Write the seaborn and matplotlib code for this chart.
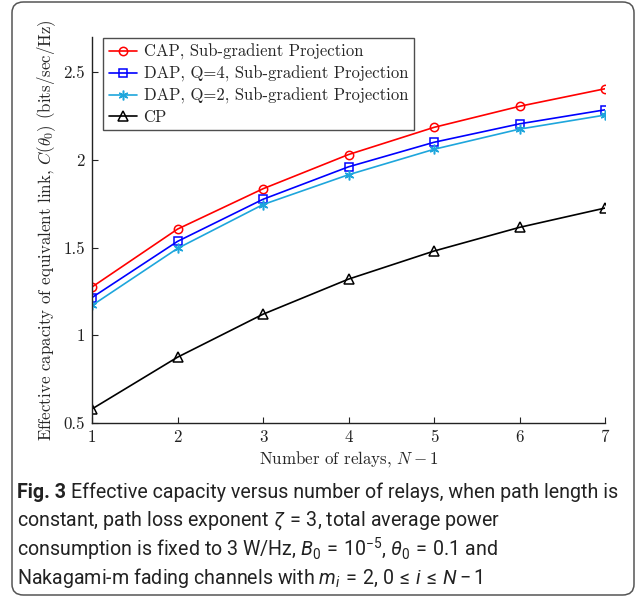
#---------------importing the libraries
import numpy as np
import pandas as pd
import matplotlib
matplotlib.use("Agg")
import matplotlib.pyplot as plt
from matplotlib.patches import FancyBboxPatch
import seaborn as sns

#---------------data
relays = [1, 2, 3, 4, 5, 6, 7]
cap_sub = [1.275, 1.605, 1.835, 2.03, 2.185, 2.305, 2.405]
dap_q4 = [1.215, 1.535, 1.775, 1.96, 2.10, 2.205, 2.285]
dap_q2 = [1.17, 1.495, 1.745, 1.915, 2.06, 2.175, 2.255]
cp = [0.58, 0.875, 1.12, 1.32, 1.48, 1.615, 1.725]

labels = ["CAP, Sub-gradient Projection",
          "DAP, Q=4, Sub-gradient Projection",
          "DAP, Q=2, Sub-gradient Projection",
          "CP"]
colors = ["#ff0000", "#0000ff", "#1ea6dc", "#000000"]
markers = ["o", "s", (6, 2, 0), "^"]
msizes = [6, 5.5, 7, 6.5]

df = pd.DataFrame({"relays": relays, labels[0]: cap_sub, labels[1]: dap_q4,
                   labels[2]: dap_q2, labels[3]: cp})

#---------------style
sns.set_theme(style="ticks")
plt.rcParams["font.family"] = ["cmr10"]
plt.rcParams["mathtext.fontset"] = "cm"
plt.rcParams["axes.unicode_minus"] = False
plt.rcParams["axes.formatter.use_mathtext"] = False

cap_font = "Roboto"
cap_size = 14.1
plt.rcParams["mathtext.rm"] = cap_font
plt.rcParams["mathtext.it"] = cap_font + ":italic"
plt.rcParams["mathtext.bf"] = cap_font + ":bold"

fig = plt.figure(figsize=(6.35, 5.98), dpi=100)
ax = fig.add_axes([92 / 635, 1 - 423 / 598, 513 / 635, 386 / 598])

#---------------the four curves
for lab, col, mk, ms in zip(labels, colors, markers, msizes):
    sns.lineplot(data=df, x="relays", y=lab, ax=ax, color=col, marker=mk,
                 markersize=ms, markerfacecolor="none",
                 markeredgecolor=col, markeredgewidth=1.1, linewidth=1.2,
                 label=lab)

fs = 12.2
ax.set_xlim(1, 7)
ax.set_ylim(0.5, 2.7)
ax.set_xticks(relays)
ax.set_yticks([0.5, 1, 1.5, 2, 2.5])
ax.set_yticklabels(["0.5", "1", "1.5", "2", "2.5"])
ax.tick_params(direction="in", length=4, width=0.8, labelsize=fs, pad=5,
               colors="#222222")
for s in ["top", "right"]:
    ax.spines[s].set_visible(False)
for s in ["left", "bottom"]:
    ax.spines[s].set_linewidth(1.0)
    ax.spines[s].set_color("#222222")

ax.set_xlabel(r"Number of relays, $N-1$", fontsize=fs, labelpad=3)
ax.set_ylabel(r"Effective capacity of equivalent link, $C(\theta_0)$ (bits/sec/Hz)",
              fontsize=fs, labelpad=4)
for t in [ax.xaxis.label, ax.yaxis.label]:
    t.set_math_fontfamily("cm")

leg = ax.legend(loc="upper left", bbox_to_anchor=(0.021, 0.997), borderaxespad=0,
                fontsize=12.0, frameon=True, fancybox=False, handlelength=1.7,
                handletextpad=0.4, labelspacing=0.33, borderpad=0.35)
leg.get_frame().set_edgecolor("#222222")
leg.get_frame().set_linewidth(1.0)

#---------------rounded frame and caption
frame = FancyBboxPatch((12 / 635, 3 / 598), 622 / 635, 593 / 598,
                       boxstyle="round,pad=0,rounding_size=0.018",
                       transform=fig.transFigure, facecolor="none",
                       edgecolor="#555555", linewidth=1.1)
fig.patches.append(frame)

caption = [r"Effective capacity versus number of relays, when path length is",
           r"constant, path loss exponent $\zeta\,=\,3$, total average power",
           r"consumption is fixed to 3 W/Hz, $B_0\,=\,10^{-5}$, $\theta_0\,=\,0.1$ and",
           r"Nakagami-m fading channels with $m_i\,=\,2$, $0\,\leq\,i\,\leq\,N-1$"]
x0 = 17 / 635
ys = [1 - (492 + 28.5 * k) / 598 for k in range(4)]
fig_lab = fig.text(x0, ys[0], "Fig. 3 ", family=[cap_font], fontweight="bold",
                   fontsize=cap_size, va="center", ha="left", color="#222222")
fig.canvas.draw()
bb = fig_lab.get_window_extent().transformed(fig.transFigure.inverted())
for k, line in enumerate(caption):
    fig.text(bb.x1 if k == 0 else x0, ys[k], line, family=[cap_font],
             fontsize=cap_size, va="center", ha="left", color="#222222",
             math_fontfamily="custom")

fig.savefig("out.png", dpi=100)
